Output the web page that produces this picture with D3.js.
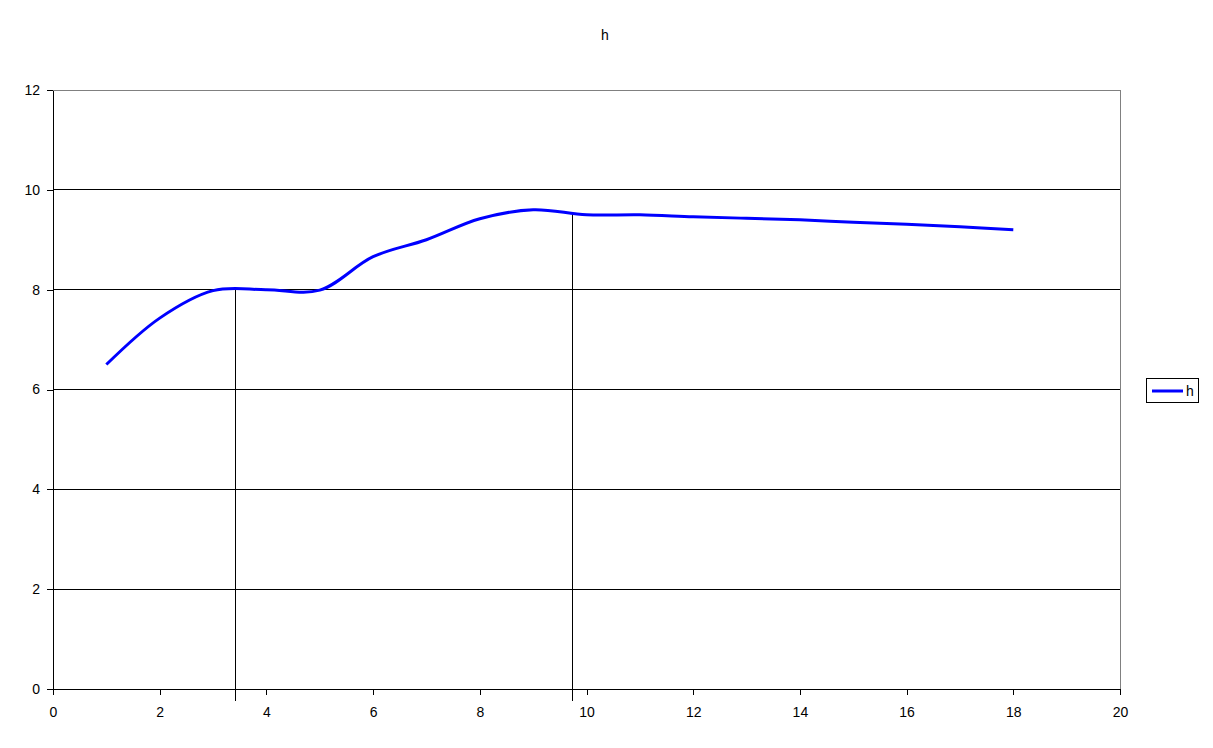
<!DOCTYPE html>
<html><head><meta charset="utf-8">
<script src="https://cdn.jsdelivr.net/npm/d3@7"></script>
<style>body{margin:0;background:#fff;font-family:"Liberation Sans",Arial,sans-serif;}</style>
</head><body><svg id="c" width="1213" height="748"></svg>
<script>
const xs = [1,2,3,4,5,6,7,8,9,10,11,12,13,14,15,16,17,18];
const hs = [6.5,7.43,7.98,8.0,7.99,8.66,9.0,9.42,9.6,9.5,9.5,9.46,9.43,9.4,9.35,9.31,9.26,9.2];
const markerX = [3.41, 9.73];
const markerY = [8.04, 9.52];
const xTicks = [0,2,4,6,8,10,12,14,16,18,20];
const yTicks = [0,2,4,6,8,10,12];
const seriesName = "h";
const title = "h";

const svg = d3.select("#c");
const L=53,R=1120,T=90,B=689;
const x = d3.scaleLinear().domain([0,20]).range([L,R]);
const y = d3.scaleLinear().domain([0,12]).range([B,T]);

svg.append("g").selectAll("line").data(yTicks.filter(d=>d>0&&d<12)).join("line")
 .attr("x1",L).attr("x2",R).attr("y1",d=>y(d)).attr("y2",d=>y(d)).attr("stroke","#000").attr("stroke-width",1).attr("shape-rendering","crispEdges");
svg.append("line").attr("x1",L).attr("x2",R).attr("y1",T).attr("y2",T).attr("stroke","#808080").attr("shape-rendering","crispEdges");
svg.append("line").attr("x1",R).attr("x2",R).attr("y1",T).attr("y2",B).attr("stroke","#808080").attr("shape-rendering","crispEdges");

const ya = svg.append("g").attr("transform",`translate(${L},0)`).call(d3.axisLeft(y).tickValues(yTicks).tickSize(6).tickPadding(7).tickSizeOuter(0));
const xa = svg.append("g").attr("transform",`translate(0,${B})`).call(d3.axisBottom(x).tickValues(xTicks).tickSize(6).tickPadding(12).tickSizeOuter(0));
[ya,xa].forEach(a=>{a.selectAll("path,line").attr("stroke","#000").attr("shape-rendering","crispEdges");
 a.selectAll("text").attr("font-size","14px").attr("fill","#000").attr("font-family","Liberation Sans, Arial, sans-serif");});

svg.append("g").selectAll("line").data(markerX).join("line")
 .attr("x1",d=>Math.round(x(d))+0.5).attr("x2",d=>Math.round(x(d))+0.5)
 .attr("y1",(d,i)=>y(markerY[i])).attr("y2",B+12).attr("stroke","#000").attr("stroke-width",1);

const line = d3.line().x((d,i)=>x(xs[i])).y(d=>y(d)).curve(d3.curveCatmullRom.alpha(0.5));
svg.append("path").datum(hs).attr("d",line).attr("fill","none").attr("stroke","#0000ff").attr("stroke-width",3);

svg.append("text").attr("x",605).attr("y",40).attr("text-anchor","middle").attr("font-size","14px").text(title);

svg.append("rect").attr("x",1146.5).attr("y",378.5).attr("width",52).attr("height",24).attr("fill","#fff").attr("stroke","#000");
svg.append("line").attr("x1",1152).attr("x2",1183).attr("y1",391).attr("y2",391).attr("stroke","#0000ff").attr("stroke-width",3);
svg.append("text").attr("x",1186).attr("y",396).attr("font-size","14px").text(seriesName);
</script></body></html>
